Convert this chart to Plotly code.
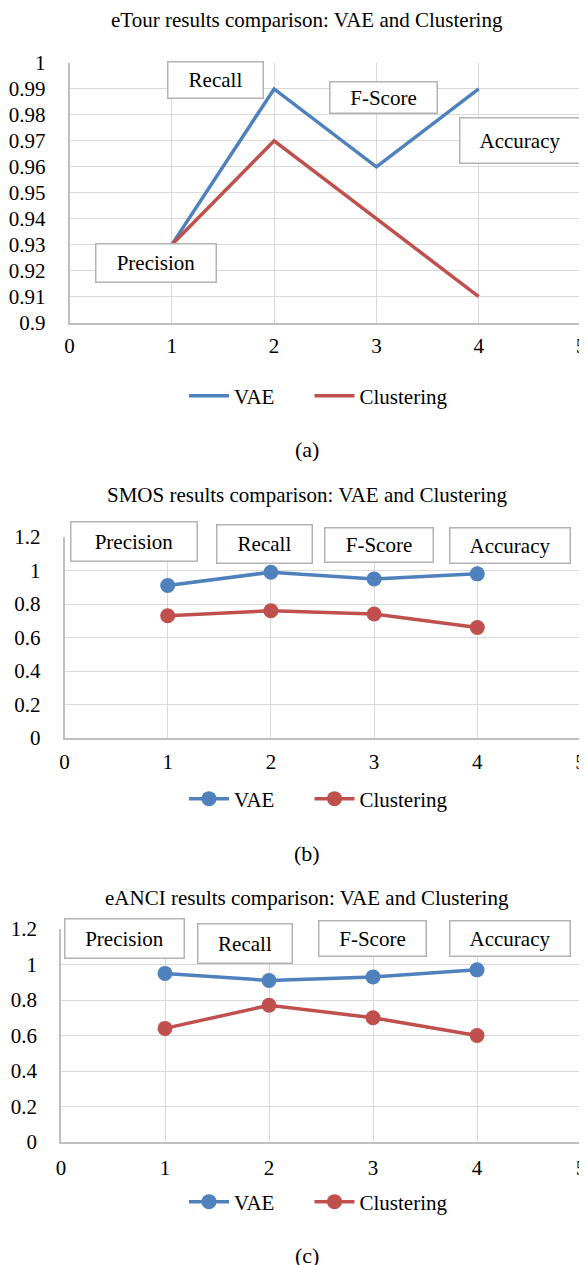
import plotly.graph_objects as go

# ---------------- data ----------------
x_vals = [1, 2, 3, 4]
metrics = ["Precision", "Recall", "F-Score", "Accuracy"]
series_names = ["VAE", "Clustering"]

etour_vae = [0.93, 0.99, 0.96, 0.99]
etour_clu = [0.93, 0.97, 0.94, 0.91]
smos_vae = [0.91, 0.99, 0.95, 0.98]
smos_clu = [0.73, 0.76, 0.74, 0.66]
eanci_vae = [0.95, 0.91, 0.93, 0.97]
eanci_clu = [0.64, 0.77, 0.70, 0.60]

titles = [
    "eTour results comparison: VAE and Clustering",
    "SMOS results comparison: VAE and Clustering",
    "eANCI results comparison: VAE and Clustering",
]
captions = ["(a)", "(b)", "(c)"]

x_ticks = [0, 1, 2, 3, 4, 5]
y_ticks_a = [0.9, 0.91, 0.92, 0.93, 0.94, 0.95, 0.96, 0.97, 0.98, 0.99, 1.0]
y_labels_a = ["0.9", "0.91", "0.92", "0.93", "0.94", "0.95", "0.96", "0.97", "0.98", "0.99", "1"]
y_ticks_bc = [0, 0.2, 0.4, 0.6, 0.8, 1.0, 1.2]
y_labels_bc = ["0", "0.2", "0.4", "0.6", "0.8", "1", "1.2"]

# ---------------- styling / layout helpers ----------------
OFF = 8                      # page body margin
W, H = 587 - OFF, 1265 - OFF  # visible figure area
FONT = "Liberation Serif"
BLUE = "#4F81BD"
RED = "#C0504D"
GRID = "#D9D9D9"
AXIS = "#BFBFBF"


def px_x(p):
    return (p - OFF) / W


def px_y(p):
    return 1 - (p - OFF) / H


fig = go.Figure()

panels = [
    dict(vae=etour_vae, clu=etour_clu, markers=False, yt=y_ticks_a, yl=y_labels_a,
         yr=[0.9, 1.0], xd=(69.5, 581), yd=(63, 322.5), xstand=4,
         title_y=20, legend_y=396, cap_y=449,
         boxes=[(155.5, 262.5, 121, 39), (215, 79.5, 96, 37), (383, 97, 108, 32), (519.5, 141, 121, 46)]),
    dict(vae=smos_vae, clu=smos_clu, markers=True, yt=y_ticks_bc, yl=y_labels_bc,
         yr=[0, 1.2], xd=(64.5, 580.5), yd=(537, 738), xstand=4,
         title_y=495, legend_y=799, cap_y=853,
         boxes=[(133.5, 542, 127, 40), (264, 543.5, 96, 39), (378.5, 545.5, 109, 35), (509.5, 545, 121, 36)]),
    dict(vae=eanci_vae, clu=eanci_clu, markers=True, yt=y_ticks_bc, yl=y_labels_bc,
         yr=[0, 1.2], xd=(61, 581), yd=(929, 1142), xstand=6,
         title_y=898, legend_y=1202, cap_y=1255,
         boxes=[(124, 939, 120, 40), (244.5, 943, 95, 40), (373, 938, 108, 36), (509.5, 938, 121, 36)]),
]

legend_left = [184, 309.5]   # left edge (px) of the VAE / Clustering legend entries

annotations = []
layout_axes = {}
leg_count = 0
for i, p in enumerate(panels):
    n = "" if i == 0 else str(i + 1)
    xa, ya = "x" + n, "y" + n
    mode = "lines+markers" if p["markers"] else "lines"
    for k, (name, vals, col) in enumerate([(series_names[0], p["vae"], BLUE),
                                            (series_names[1], p["clu"], RED)]):
        leg_count += 1
        leg_id = "legend" if leg_count == 1 else "legend%d" % leg_count
        fig.add_trace(go.Scatter(
            x=x_vals, y=vals, name=name, mode=mode, xaxis=xa, yaxis=ya,
            line=dict(color=col, width=3.5),
            marker=dict(size=15, color=col),
            legend=leg_id, showlegend=True, cliponaxis=False,
        ))
        layout_axes[leg_id] = dict(
            orientation="h", x=px_x(legend_left[k]), xanchor="left",
            y=px_y(p["legend_y"]), yanchor="middle",
            font=dict(family=FONT, size=21, color="black"),
            bgcolor="rgba(0,0,0,0)", itemwidth=40,
        )
    layout_axes["xaxis" + n] = dict(
        domain=[px_x(p["xd"][0]), px_x(p["xd"][1])], anchor=ya,
        range=[0, 5], tickvals=x_ticks, ticktext=[str(t) for t in x_ticks],
        showgrid=True, gridcolor=GRID, gridwidth=1.3,
        showline=True, linecolor=AXIS, linewidth=1.5,
        zeroline=False, ticks="", ticklabelstandoff=p["xstand"], automargin=False,
        ticklabeloverflow="allow",
        tickfont=dict(family=FONT, size=21, color="black"),
        fixedrange=True,
    )
    layout_axes["yaxis" + n] = dict(
        domain=[px_y(p["yd"][1]), px_y(p["yd"][0])], anchor=xa,
        range=p["yr"], tickvals=p["yt"], ticktext=p["yl"],
        showgrid=True, gridcolor=GRID, gridwidth=1.3,
        showline=True, linecolor=AXIS, linewidth=1.5,
        zeroline=False, ticks="", ticklabelstandoff=18, automargin=False,
        ticklabeloverflow="allow",
        tickfont=dict(family=FONT, size=21, color="black"),
        fixedrange=True,
    )
    # title
    annotations.append(dict(
        text=titles[i], xref="paper", yref="paper", x=px_x(307), y=px_y(p["title_y"]),
        xanchor="center", yanchor="middle", showarrow=False,
        font=dict(family=FONT, size=21, color="black"),
    ))
    # caption
    annotations.append(dict(
        text=captions[i], xref="paper", yref="paper", x=px_x(307), y=px_y(p["cap_y"]),
        xanchor="center", yanchor="middle", showarrow=False,
        font=dict(family=FONT, size=22, color="black"),
    ))
    # metric label boxes
    for label, (cx, cy, bw, bh) in zip(metrics, p["boxes"]):
        annotations.append(dict(
            text=label, xref="paper", yref="paper", x=px_x(cx), y=px_y(cy),
            xanchor="center", yanchor="middle", showarrow=False,
            width=bw - 2, height=bh - 2, borderpad=0,
            bordercolor="#B3B3B3", borderwidth=1.5, bgcolor="white",
            font=dict(family=FONT, size=21, color="black"),
        ))

fig.update_layout(
    template="none",
    width=W, height=H,
    margin=dict(l=0, r=0, t=0, b=0, autoexpand=False),
    paper_bgcolor="white", plot_bgcolor="white",
    annotations=annotations,
    **layout_axes,
)

fig.write_html("out.html")
